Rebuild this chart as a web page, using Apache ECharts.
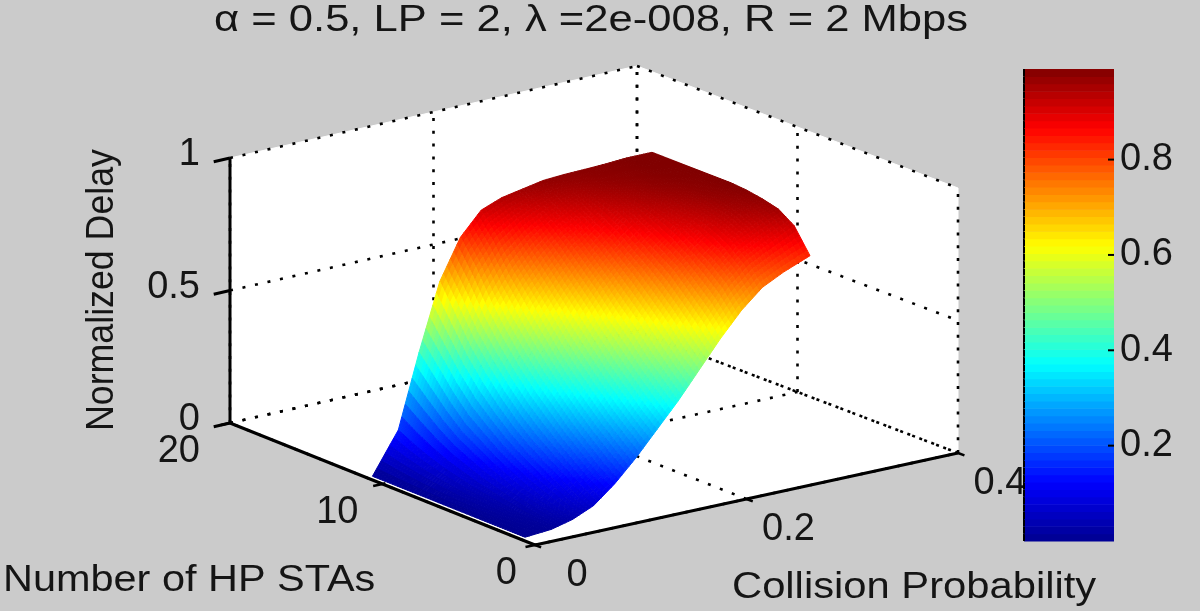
<!DOCTYPE html>
<html>
<head>
<meta charset="utf-8">
<style>
  html, body { margin: 0; padding: 0; background: #cbcbcb; }
  #chart { width: 1200px; height: 611px; }
</style>
<script src="https://cdn.jsdelivr.net/npm/echarts@6/dist/echarts.min.js"></script>
</head>
<body>
<div id="chart"></div>
<script>
const collisionProb = [0.005, 0.03, 0.05, 0.07, 0.09, 0.11, 0.13, 0.15, 0.17, 0.19, 0.21, 0.23, 0.25, 0.275];
const hpStas = [1, 2, 3, 4, 5, 6, 7, 8, 9, 10, 11];
// one row per hpStas entry, one column per collisionProb entry
const delayRow1 = [0.002, 0.01, 0.03, 0.065, 0.13, 0.21, 0.30, 0.39, 0.49, 0.59, 0.68, 0.75, 0.79, 0.83];
const delayRow2 = [0.002, 0.015, 0.05, 0.10, 0.17, 0.26, 0.35, 0.45, 0.55, 0.66, 0.76, 0.83, 0.87, 0.92];
const delayRow3 = [0.002, 0.02, 0.07, 0.14, 0.22, 0.31, 0.41, 0.51, 0.62, 0.72, 0.81, 0.88, 0.92, 0.96];
const delayRow4 = [0.002, 0.03, 0.09, 0.18, 0.27, 0.37, 0.47, 0.58, 0.68, 0.78, 0.85, 0.91, 0.95, 0.975];
const delayRow5 = [0.002, 0.04, 0.12, 0.22, 0.33, 0.43, 0.54, 0.64, 0.74, 0.82, 0.89, 0.93, 0.965, 0.985];
const delayRow6 = [0.002, 0.05, 0.15, 0.27, 0.39, 0.50, 0.61, 0.71, 0.79, 0.86, 0.915, 0.95, 0.975, 0.99];
const delayRow7 = [0.002, 0.065, 0.19, 0.33, 0.46, 0.58, 0.68, 0.77, 0.84, 0.90, 0.94, 0.965, 0.98, 0.99];
const delayRow8 = [0.002, 0.08, 0.23, 0.40, 0.54, 0.66, 0.75, 0.83, 0.88, 0.93, 0.955, 0.975, 0.985, 0.99];
const delayRow9 = [0.002, 0.10, 0.29, 0.48, 0.63, 0.74, 0.82, 0.88, 0.92, 0.95, 0.97, 0.98, 0.988, 0.99];
const delayRow10 = [0.002, 0.125, 0.36, 0.58, 0.74, 0.84, 0.89, 0.925, 0.95, 0.965, 0.978, 0.983, 0.99, 0.99];
const delayRow11 = [0.002, 0.155, 0.43, 0.68, 0.83, 0.915, 0.945, 0.96, 0.975, 0.98, 0.982, 0.985, 0.99, 0.99];
const delay = [delayRow1, delayRow2, delayRow3, delayRow4, delayRow5, delayRow6, delayRow7, delayRow8, delayRow9, delayRow10, delayRow11];

const xTicks = [0, 0.2, 0.4];
const yTicks = [0, 10, 20];
const zTicks = [0, 0.5, 1];
const colorbarTicks = [0.2, 0.4, 0.6, 0.8];
const colorMax = 0.99;

const FONT = '"Liberation Sans", Arial, sans-serif';
const TEXT = "#151515";

// MATLAB style view of the box: where the floor corners land on the page, and how tall z = 1 is
const floorFront = [535, 545];
const floorLeft = [230, 423];
const floorRight = [958, 453];
const floorBack = [637, 331];
const zHeight = 265;

function project(x, y, z) {
  const a = x / 0.4, b = y / 20;
  const mix = i =>
    floorFront[i] * (1 - a) * (1 - b) + floorRight[i] * a * (1 - b) +
    floorLeft[i] * (1 - a) * b + floorBack[i] * a * b;
  return [mix(0), mix(1) - z * zHeight];
}

function jet(t) {
  const stops = [[0, 0, 0, 143], [0.125, 0, 0, 255], [0.375, 0, 255, 255], [0.625, 255, 255, 0], [0.875, 255, 0, 0], [1, 128, 0, 0]];
  t = Math.max(0, Math.min(1, t));
  let i = 0;
  while (i < stops.length - 2 && t > stops[i + 1][0]) i++;
  const s = stops[i], e = stops[i + 1], k = (t - s[0]) / (e[0] - s[0]);
  return `rgb(${[1, 2, 3].map(c => Math.round(s[c] + (e[c] - s[c]) * k)).join(",")})`;
}

function line(api, from, to, style) {
  const p = api.coord(project(...from)), q = api.coord(project(...to));
  return {
    type: "line",
    shape: { x1: p[0], y1: p[1], x2: q[0], y2: q[1] },
    style: Object.assign({ stroke: "#000", fill: null }, style)
  };
}

function renderBox(params, api) {
  const dotted = { lineWidth: 2.6, lineDash: [3, 9.8] };
  const wall = pts => ({
    type: "polygon",
    shape: { points: pts.map(p => api.coord(project(...p))) },
    style: { fill: "#fff", stroke: "#fff", lineWidth: 1 }
  });
  const kids = [
    wall([[0, 20, 0], [0.4, 20, 0], [0.4, 20, 1], [0, 20, 1]]),
    wall([[0.4, 0, 0], [0.4, 20, 0], [0.4, 20, 1], [0.4, 0, 1]]),
    wall([[0, 0, 0], [0.4, 0, 0], [0.4, 20, 0], [0, 20, 0]])
  ];
  zTicks.forEach(z => {
    kids.push(line(api, [0, 20, z], [0.4, 20, z], dotted));
    kids.push(line(api, [0.4, 20, z], [0.4, 0, z], dotted));
  });
  yTicks.forEach(y => {
    kids.push(line(api, [0, y, 0], [0.4, y, 0], dotted));
    kids.push(line(api, [0.4, y, 0], [0.4, y, 1], dotted));
  });
  xTicks.forEach(x => {
    kids.push(line(api, [x, 0, 0], [x, 20, 0], dotted));
    kids.push(line(api, [x, 20, 0], [x, 20, 1], dotted));
  });
  return { type: "group", children: kids };
}

// solid edges go over the surface, its front rows sit right on them
function renderAxisEdges(params, api) {
  const solid = { lineWidth: 3 };
  const kids = [
    line(api, [0, 20, 0], [0, 20, 1], solid),
    line(api, [0, 0, 0], [0, 20, 0], solid),
    line(api, [0, 0, 0], [0.4, 0, 0], solid)
  ];
  // tick marks point out of the box
  zTicks.forEach(z => kids.push(line(api, [0, 20, z], [-0.016, 20, z], { lineWidth: 3 })));
  yTicks.forEach(y => kids.push(line(api, [0, y, 0], [-0.009, y, 0], { lineWidth: 2.5 })));
  xTicks.forEach(x => kids.push(line(api, [x, 0, 0], [x, -0.4, 0], { lineWidth: 2.5 })));
  return { type: "group", children: kids };
}

function renderSurfaceCell(params, api) {
  const i = api.value(0), j = api.value(1);
  const steps = 6;
  const kids = [];
  const at = (u, v) => {
    const x = collisionProb[j] + (collisionProb[j + 1] - collisionProb[j]) * u;
    const y = hpStas[i] + (hpStas[i + 1] - hpStas[i]) * v;
    const z = delay[i][j] * (1 - u) * (1 - v) + delay[i][j + 1] * u * (1 - v) +
      delay[i + 1][j] * (1 - u) * v + delay[i + 1][j + 1] * u * v;
    return { p: api.coord(project(x, y, z)), z };
  };
  for (let s = steps - 1; s >= 0; s--) {
    for (let t = steps - 1; t >= 0; t--) {
      const q = [at(s / steps, t / steps), at((s + 1) / steps, t / steps), at((s + 1) / steps, (t + 1) / steps), at(s / steps, (t + 1) / steps)];
      const color = jet((q[0].z + q[1].z + q[2].z + q[3].z) / 4 / colorMax);
      kids.push({
        type: "polygon",
        shape: { points: q.map(c => c.p) },
        style: { fill: color, stroke: color, lineWidth: 1 }
      });
    }
  }
  return { type: "group", children: kids };
}

function tickLabel(api, text, x, y, z, dx, dy, align) {
  const p = api.coord(project(x, y, z));
  return {
    type: "text",
    style: { text, x: p[0] + dx, y: p[1] + dy, fill: TEXT, font: `38px ${FONT}`, align, verticalAlign: "middle" }
  };
}

function renderTickLabels(params, api) {
  const kids = [];
  zTicks.forEach(z => kids.push(tickLabel(api, String(z), 0, 20, z, -30, -3, "right")));
  yTicks.forEach(y => kids.push(tickLabel(api, String(y), 0, y, 0, -18 - 12 * y / 20, 29, "right")));
  xTicks.forEach(x => kids.push(tickLabel(api, String(x), x, 0, 0, 42, 31, "center")));
  return { type: "group", children: kids };
}

// far cells first so nearer ones paint over them
const surfaceCells = [];
for (let j = collisionProb.length - 2; j >= 0; j--) {
  for (let i = hpStas.length - 2; i >= 0; i--) surfaceCells.push([i, j]);
}

const colorLevels = [];
for (let i = 0; i < 64; i++) colorLevels.push([i / 64 * colorMax, (i + 1) / 64 * colorMax]);

const overlay = { type: "custom", coordinateSystem: "cartesian2d", xAxisIndex: 0, yAxisIndex: 0, clip: false, silent: true, data: [[0]] };

const chart = echarts.init(document.getElementById("chart"));
chart.setOption({
  animation: false,
  backgroundColor: "#cbcbcb",
  grid: [
    { left: 0, top: 0, width: 1200, height: 611 },
    { left: 1024, top: 69, width: 90, height: 472 }
  ],
  xAxis: [
    { gridIndex: 0, type: "value", min: 0, max: 1200, show: false },
    { gridIndex: 1, type: "value", min: 0, max: 1, show: false }
  ],
  yAxis: [
    { gridIndex: 0, type: "value", min: 0, max: 611, inverse: true, show: false },
    {
      gridIndex: 1,
      type: "value",
      position: "right",
      min: 0,
      max: colorMax,
      splitLine: { show: false },
      axisLine: { show: false },
      axisTick: { show: false },
      axisLabel: {
        color: TEXT,
        fontFamily: FONT,
        fontSize: 38,
        margin: 6,
        customValues: colorbarTicks,
        formatter: v => String(v)
      }
    }
  ],
  graphic: [
    {
      type: "text",
      x: 591,
      y: 21,
      scaleX: 1.21,
      style: { text: "α = 0.5, LP = 2, λ =2e-008, R = 2 Mbps", fill: TEXT, font: `36px ${FONT}`, align: "center", verticalAlign: "middle" }
    },
    {
      type: "text",
      x: 3,
      y: 581,
      scaleX: 1.12,
      style: { text: "Number of HP STAs", fill: TEXT, font: `37px ${FONT}`, verticalAlign: "middle" }
    },
    {
      type: "text",
      x: 732,
      y: 588,
      scaleX: 1.128,
      style: { text: "Collision Probability", fill: TEXT, font: `37px ${FONT}`, verticalAlign: "middle" }
    },
    {
      type: "text",
      x: 103,
      y: 290,
      rotation: Math.PI / 2,
      scaleX: 0.94,
      style: { text: "Normalized Delay", fill: TEXT, font: `38px ${FONT}`, align: "center", verticalAlign: "middle" }
    }
  ],
  series: [
    Object.assign({}, overlay, { z: 1, renderItem: renderBox }),
    Object.assign({}, overlay, { z: 2, renderItem: renderTickLabels }),
    Object.assign({}, overlay, { z: 3, progressive: 0, data: surfaceCells, encode: { x: 0, y: 1 }, renderItem: renderSurfaceCell }),
    Object.assign({}, overlay, { z: 4, renderItem: renderAxisEdges }),
    {
      type: "custom",
      coordinateSystem: "cartesian2d",
      xAxisIndex: 1,
      yAxisIndex: 1,
      silent: true,
      progressive: 0,
      z: 5,
      data: colorLevels,
      encode: { y: [0, 1] },
      renderItem(params, api) {
        const low = api.coord([0, api.value(0)]);
        const high = api.coord([1, api.value(1)]);
        const color = jet((api.value(0) + api.value(1)) / 2 / colorMax);
        return {
          type: "group",
          children: [
            {
              type: "rect",
              shape: { x: low[0], y: high[1], width: high[0] - low[0], height: low[1] - high[1] + 0.5 },
              style: { fill: color }
            },
            {
              type: "line",
              shape: { x1: low[0], y1: low[1], x2: low[0], y2: high[1] },
              style: { stroke: "#000", lineWidth: 2 }
            }
          ]
        };
      }
    },
    {
      type: "custom",
      coordinateSystem: "cartesian2d",
      xAxisIndex: 1,
      yAxisIndex: 1,
      silent: true,
      z: 6,
      data: colorbarTicks.map(v => [v]),
      encode: { y: 0 },
      renderItem(params, api) {
        const p = api.coord([1, api.value(0)]);
        return {
          type: "line",
          shape: { x1: p[0] - 6, y1: p[1], x2: p[0], y2: p[1] },
          style: { stroke: "#000", lineWidth: 2 }
        };
      }
    }
  ]
});
</script>
</body>
</html>
